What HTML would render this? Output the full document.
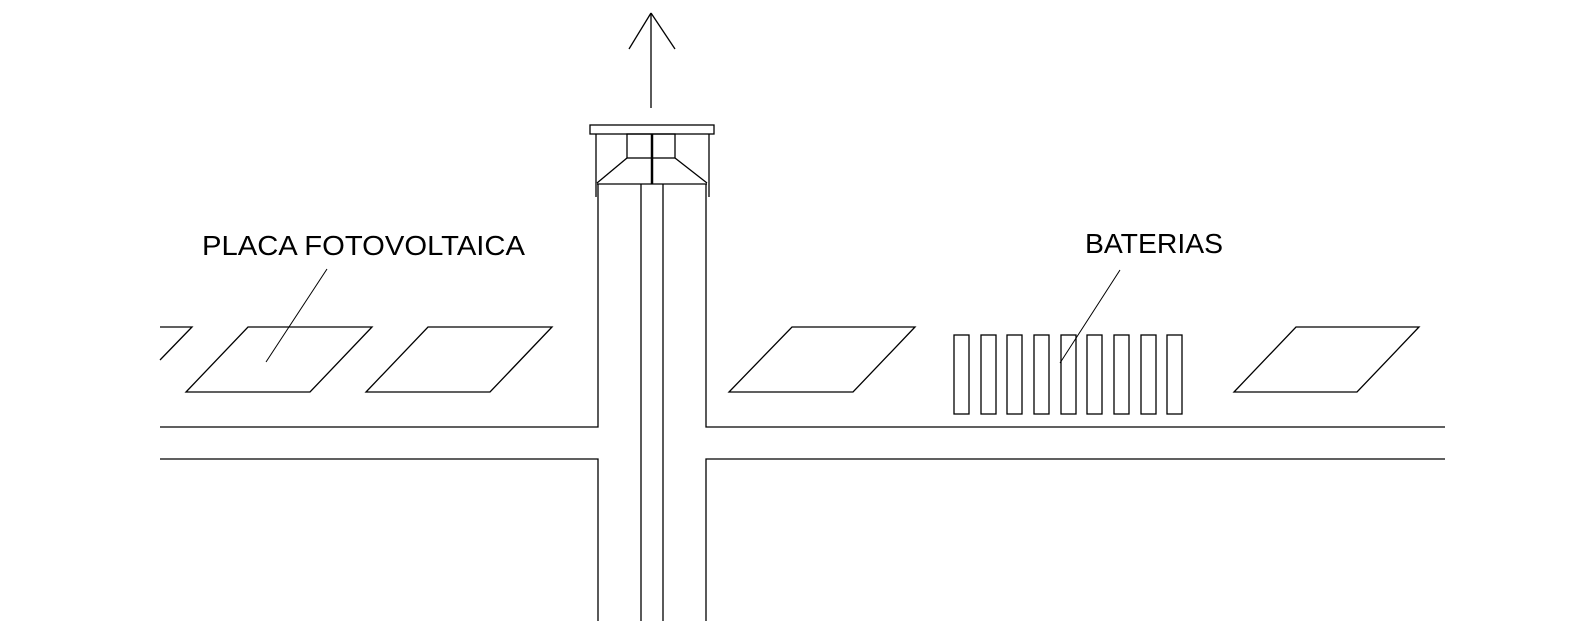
<!DOCTYPE html>
<html><head><style>body{margin:0;background:#fff}svg{display:block}</style></head><body>
<svg width="1583" height="641" viewBox="0 0 1583 641" xmlns="http://www.w3.org/2000/svg">
<g fill="none" stroke="#000" stroke-width="1.3">
<!-- arrow -->
<line x1="651" y1="13" x2="651" y2="108"/>
<line x1="651" y1="13" x2="629" y2="49"/>
<line x1="651" y1="13" x2="675" y2="49"/>
<!-- cap -->
<rect x="590" y="125" width="124" height="9"/>
<line x1="596" y1="134" x2="596" y2="197"/>
<line x1="709" y1="134" x2="709" y2="197"/>
<rect x="627" y="134" width="48" height="24"/>
<line x1="652" y1="134" x2="652" y2="184" stroke-width="2.5"/>
<line x1="627" y1="158" x2="597" y2="183"/>
<line x1="675" y1="158" x2="707" y2="183"/>
<line x1="597" y1="184" x2="707" y2="184"/>
<!-- shaft -->
<line x1="641" y1="184" x2="641" y2="621"/>
<line x1="663" y1="184" x2="663" y2="621"/>
<polyline points="598,184 598,427 160,427"/>
<polyline points="160,459 598,459 598,621"/>
<polyline points="706,184 706,427 1445,427"/>
<polyline points="1445,459 706,459 706,621"/>
<!-- panels -->
<polyline points="160,327 192,327 160,360"/>
<polygon points="248,327 372,327 310,392 186,392"/>
<polygon points="428,327 552,327 490,392 366,392"/>
<polygon points="792,327 915,327 853,392 729,392"/>
<polygon points="1296,327 1419,327 1357,392 1234,392"/>
<!-- batteries -->
<rect x="954" y="335" width="15" height="79"/>
<rect x="981" y="335" width="15" height="79"/>
<rect x="1007" y="335" width="15" height="79"/>
<rect x="1034" y="335" width="15" height="79"/>
<rect x="1061" y="335" width="15" height="79"/>
<rect x="1087" y="335" width="15" height="79"/>
<rect x="1114" y="335" width="15" height="79"/>
<rect x="1141" y="335" width="15" height="79"/>
<rect x="1167" y="335" width="15" height="79"/>
<!-- leaders -->
<line x1="327" y1="269" x2="266" y2="362" stroke-width="1"/>
<line x1="1120" y1="270" x2="1060" y2="363" stroke-width="1"/>
</g>
<g font-family="Liberation Sans, sans-serif" font-size="27.5" fill="#000">
<text x="202" y="255" textLength="323" lengthAdjust="spacingAndGlyphs">PLACA FOTOVOLTAICA</text>
<text x="1085" y="253" textLength="138" lengthAdjust="spacingAndGlyphs">BATERIAS</text>
</g>
</svg>
</body></html>
